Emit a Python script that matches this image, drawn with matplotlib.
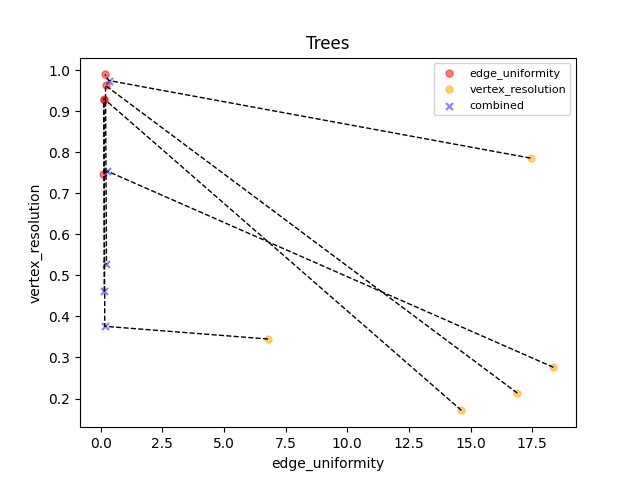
import matplotlib
matplotlib.use("Agg")
import matplotlib.pyplot as plt
from matplotlib.ticker import MultipleLocator

# one entry per tree: metrics of the layout optimised for each objective
eu_x = [0.175, 0.20, 0.13, 0.08, 0.14]
eu_y = [0.990, 0.963, 0.931, 0.747, 0.928]

vr_x = [17.43, 16.90, 14.63, 18.36, 6.79]
vr_y = [0.786, 0.213, 0.171, 0.276, 0.345]

cb_x = [0.34, 0.24, 0.15, 0.28, 0.17]
cb_y = [0.975, 0.527, 0.461, 0.754, 0.376]

# order in which the three points of each tree are joined
paths = [
    ("vr", "cb", "eu"),
    ("vr", "eu", "cb"),
    ("vr", "eu", "cb"),
    ("vr", "cb", "eu"),
    ("vr", "cb", "eu"),
]

pts = {"eu": (eu_x, eu_y), "vr": (vr_x, vr_y), "cb": (cb_x, cb_y)}

fig, ax = plt.subplots(figsize=(6.4, 4.8), dpi=100)
ax.scatter(eu_x, eu_y, color="red", alpha=0.5, s=25, label="edge_uniformity")
ax.scatter(vr_x, vr_y, color="orange", alpha=0.5, s=25, label="vertex_resolution")
ax.scatter(cb_x, cb_y, color="blue", alpha=0.5, s=25, marker="x", label="combined")

for i, path in enumerate(paths):
    xs = [pts[k][0][i] for k in path]
    ys = [pts[k][1][i] for k in path]
    ax.plot(xs, ys, "k--", linewidth=1)

ax.yaxis.set_major_locator(MultipleLocator(0.1))
ax.set_title("Trees")
ax.set_xlabel("edge_uniformity")
ax.set_ylabel("vertex_resolution")
ax.legend(loc="upper right", fontsize=8)
fig.savefig("out.png")
